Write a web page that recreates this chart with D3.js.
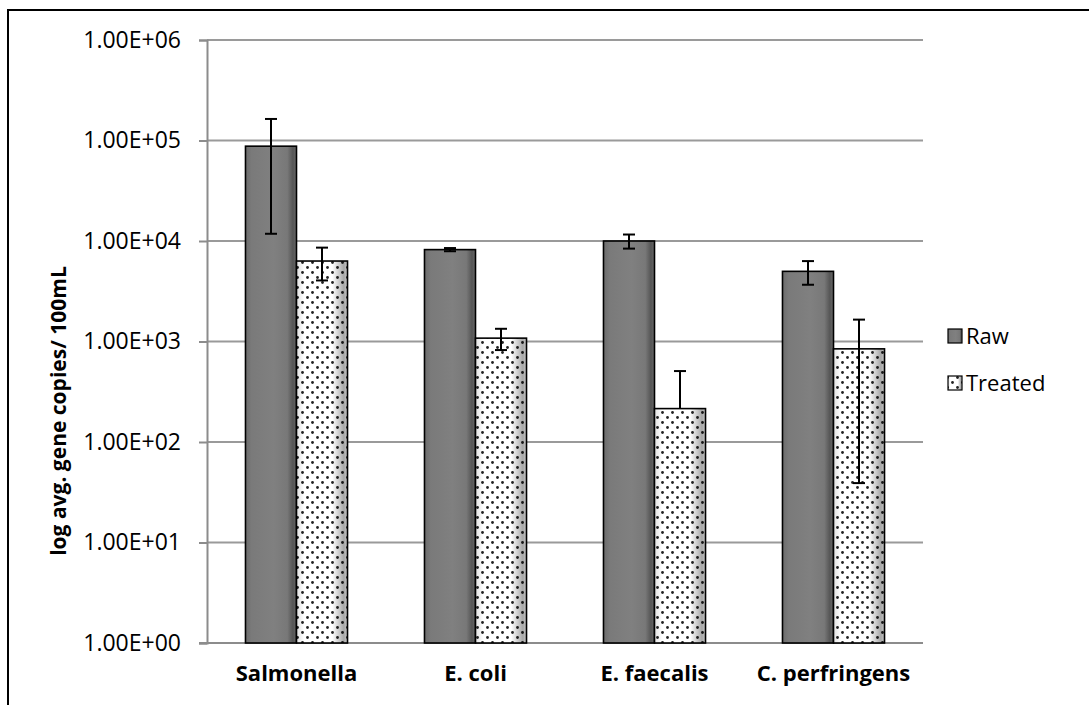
<!DOCTYPE html>
<html>
<head>
<meta charset="utf-8">
<script src="https://cdn.jsdelivr.net/npm/d3@7"></script>
<style>
  html, body { margin: 0; padding: 0; background: #fff; }
  svg { display: block; }
  text { font-family: "Open Sans", sans-serif; fill: #000; }
</style>
</head>
<body>
<svg id="chart" width="1089" height="705"></svg>
<script>
// Gene copies per 100 mL, raw vs treated, with standard deviations
const categories = ["Salmonella", "E. coli", "E. faecalis", "C. perfringens"];
const seriesNames = ["Raw", "Treated"];
const rawValues = [87800, 8210, 10000, 4990];
const rawErrors = [76000, 300, 1600, 1320];
const treatedValues = [6320, 1080, 215, 845];
const treatedErrors = [2270, 258, 293, 806];
const yTickValues = [1, 10, 100, 1000, 10000, 100000, 1000000];
const yTickLabels = ["1.00E+00", "1.00E+01", "1.00E+02", "1.00E+03", "1.00E+04", "1.00E+05", "1.00E+06"];
const yTitle = "log avg. gene copies/ 100mL";

const svg = d3.select("#chart");
const plot = { left: 207, right: 923, top: 40, bottom: 643 };

const x0 = d3.scaleBand().domain(categories)
  .range([plot.left, plot.right]).paddingInner(0.43).paddingOuter(0.215);
const x1 = d3.scaleBand().domain(seriesNames).range([0, x0.bandwidth()]);
const y = d3.scaleLog().domain([1, 1e6]).range([plot.bottom, plot.top]);

const defs = svg.append("defs");

// Raw: mid grey with a darker band near the right edge
const gRaw = defs.append("linearGradient").attr("id", "gradRaw");
[[0, "#6c6c6c"], [0.12, "#7a7a7a"], [0.55, "#808080"], [0.82, "#787878"], [0.93, "#555555"], [1, "#6a6a6a"]]
  .forEach(([o, c]) => gRaw.append("stop").attr("offset", o).attr("stop-color", c));

// Treated: dotted fill plus a soft grey shading overlay
const dots = defs.append("pattern").attr("id", "dots")
  .attr("patternUnits", "userSpaceOnUse").attr("width", 10).attr("height", 10);
dots.append("rect").attr("width", 10).attr("height", 10).attr("fill", "#fff");
dots.append("circle").attr("cx", 2.5).attr("cy", 2.5).attr("r", 1.4).attr("fill", "#222");
dots.append("circle").attr("cx", 7.5).attr("cy", 7.5).attr("r", 1.4).attr("fill", "#222");

const gShade = defs.append("linearGradient").attr("id", "gradShade");
[[0, 0.12], [0.15, 0], [0.7, 0], [0.93, 0.35], [1, 0.2]]
  .forEach(([o, a]) => gShade.append("stop").attr("offset", o)
    .attr("stop-color", "#000").attr("stop-opacity", a));

// Outer frame (top and left edges visible)
svg.append("line").attr("x1", 8).attr("x2", 1089).attr("y1", 10).attr("y2", 10)
  .attr("stroke", "#000").attr("stroke-width", 2);
svg.append("line").attr("x1", 8).attr("x2", 8).attr("y1", 9).attr("y2", 705)
  .attr("stroke", "#000").attr("stroke-width", 2);

// Horizontal gridlines
svg.append("g").selectAll("line").data(yTickValues.slice(1)).join("line")
  .attr("x1", plot.left).attr("x2", plot.right)
  .attr("y1", d => y(d)).attr("y2", d => y(d))
  .attr("stroke", "#9a9a9a").attr("stroke-width", 2);

// Y axis
const yAxis = d3.axisLeft(y).tickValues(yTickValues)
  .tickFormat((d, i) => yTickLabels[i]).tickSize(8).tickPadding(18);
const gy = svg.append("g").attr("transform", `translate(${plot.left},0)`).call(yAxis);
gy.select(".domain").attr("stroke", "#8c8c8c").attr("stroke-width", 2);
gy.selectAll(".tick line").attr("stroke", "#8c8c8c").attr("stroke-width", 2);
gy.selectAll(".tick text").style("font-size", "23px").attr("fill", "#000");

// X axis baseline
svg.append("line").attr("x1", plot.left - 8).attr("x2", plot.right)
  .attr("y1", plot.bottom).attr("y2", plot.bottom)
  .attr("stroke", "#8c8c8c").attr("stroke-width", 2);

// Category labels
const xAxis = d3.axisBottom(x0).tickSize(0).tickPadding(22);
const gx = svg.append("g").attr("transform", `translate(0,${plot.bottom})`).call(xAxis);
gx.select(".domain").remove();
gx.selectAll(".tick text").style("font-size", "22px").style("font-weight", "bold").attr("fill", "#000");

// Bars
const rows = categories.map((c, i) => [
  { cat: c, series: "Raw", v: rawValues[i], e: rawErrors[i] },
  { cat: c, series: "Treated", v: treatedValues[i], e: treatedErrors[i] }
]).flat();

const bars = svg.append("g");
rows.forEach(d => {
  const bx = x0(d.cat) + x1(d.series);
  const by = y(d.v);
  const bh = y(1) - by;
  const bw = x1.bandwidth();
  if (d.series === "Raw") {
    bars.append("rect").attr("x", bx).attr("y", by).attr("width", bw).attr("height", bh)
      .attr("fill", "url(#gradRaw)").attr("stroke", "#000").attr("stroke-width", 1.6);
  } else {
    bars.append("rect").attr("x", bx).attr("y", by).attr("width", bw).attr("height", bh)
      .attr("fill", "url(#dots)");
    bars.append("rect").attr("x", bx).attr("y", by).attr("width", bw).attr("height", bh)
      .attr("fill", "url(#gradShade)").attr("stroke", "#000").attr("stroke-width", 1.6);
  }
});

// Error bars (lower arm omitted when it falls below zero on the log axis)
const errs = svg.append("g").attr("stroke", "#000").attr("stroke-width", 2);
rows.forEach(d => {
  const cx = x0(d.cat) + x1(d.series) + x1.bandwidth() / 2;
  const hi = d.v + d.e;
  const lo = d.v - d.e;
  const yHi = y(hi);
  const yLo = lo > 0 ? y(lo) : y(d.v);
  errs.append("line").attr("x1", cx).attr("x2", cx).attr("y1", yHi).attr("y2", yLo);
  errs.append("line").attr("x1", cx - 6).attr("x2", cx + 6).attr("y1", yHi).attr("y2", yHi);
  if (lo > 0) errs.append("line").attr("x1", cx - 6).attr("x2", cx + 6).attr("y1", yLo).attr("y2", yLo);
});

// Y axis title
svg.append("text")
  .attr("transform", "translate(66,411) rotate(-90)")
  .attr("text-anchor", "middle")
  .style("font-size", "21px").style("font-weight", "bold")
  .text(yTitle);

// Legend
const legend = svg.append("g");
seriesNames.forEach((s, i) => {
  const ly = 336 + i * 47;
  legend.append("rect").attr("x", 948).attr("y", ly - 7).attr("width", 14).attr("height", 14)
    .attr("fill", s === "Raw" ? "url(#gradRaw)" : "url(#dots)")
    .attr("stroke", "#000").attr("stroke-width", 1.2);
  if (s !== "Raw") {
    legend.append("rect").attr("x", 948).attr("y", ly - 7).attr("width", 14).attr("height", 14)
      .attr("fill", "url(#gradShade)");
  }
  legend.append("text").attr("x", 966).attr("y", ly).attr("dy", "0.35em")
    .style("font-size", "22px").text(s);
});
</script>
</body>
</html>
